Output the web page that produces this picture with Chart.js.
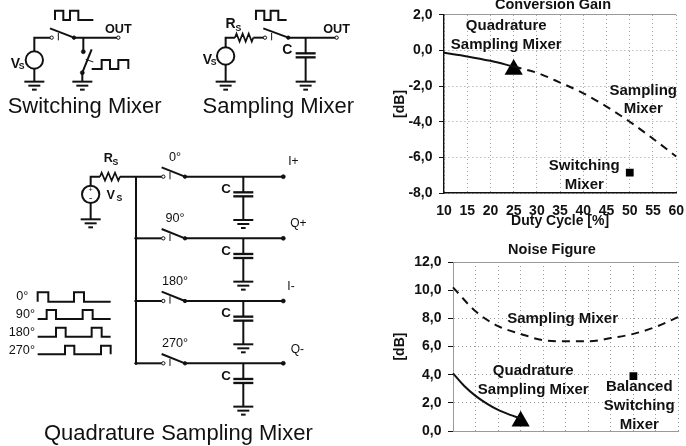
<!DOCTYPE html>
<html>
<head>
<meta charset="utf-8">
<script src="https://cdn.jsdelivr.net/npm/chart.js@4"></script>
<style>
  html, body { margin: 0; padding: 0; background: #fff; overflow: hidden; }
  #pagina { position: relative; width: 686px; height: 446px; overflow: hidden; filter: blur(0.55px); }
  #esquema { position: absolute; left: 0; top: 0; }
  #esquema polyline, #esquema line, #esquema circle { fill: none; stroke: #111; stroke-linejoin: miter; }
  #esquema text { font-family: "Liberation Sans", Arial, sans-serif; fill: #111; stroke: none; }
  .box { position: absolute; }
  /* um pouco mais largo que a pagina: o Chart.js reserva margem pelo tamanho dos marcadores */
  #caixaGanho { left: 385px; top: 0; width: 309px; height: 230px; }
  #caixaRuido { left: 385px; top: 225px; width: 304px; height: 221px; }
</style>
</head>
<body>
<div id="pagina">
  <svg id="esquema" width="400" height="446"></svg>
  <div class="box" id="caixaGanho"><canvas id="ganho"></canvas></div>
  <div class="box" id="caixaRuido"><canvas id="ruido"></canvas></div>
</div>
<script>
// Dados
const dutyTicks = [10, 15, 20, 25, 30, 35, 40, 45, 50, 55, 60];

const ganhoQuadX = [10, 15, 20, 25];
const ganhoQuadY = [-0.13, -0.33, -0.58, -0.9];
const ganhoSampX = [25, 30, 35, 40, 45, 50, 55, 60];
const ganhoSampY = [-0.9, -1.25, -1.8, -2.4, -3.15, -4.0, -4.95, -5.95];
const ganhoTriX = [25];
const ganhoTriY = [-1.07];
const ganhoQuadrX = [50];
const ganhoQuadrY = [-6.85];

const ruidoSampX = [10, 15, 20, 25, 30, 35, 40, 45, 50, 55, 60];
const ruidoSampY = [10.2, 8.5, 7.45, 6.9, 6.45, 6.37, 6.37, 6.6, 6.9, 7.4, 8.1];
const ruidoQuadX = [10, 12.5, 15, 17.5, 20, 22.5, 25];
const ruidoQuadY = [4.1, 3.2, 2.5, 1.95, 1.5, 1.17, 0.9];
const ruidoTriX = [25];
const ruidoTriY = [0.7];
const ruidoQuadrX = [50];
const ruidoQuadrY = [3.9];

const ganhoTicks = [2, 0, -2, -4, -6, -8];
const ruidoTicks = [12, 10, 8, 6, 4, 2, 0];

const ganhoTextos = ['Quadrature', 'Sampling Mixer', 'Sampling', 'Mixer', 'Switching', 'Mixer'];
const ganhoTextosX = [23.4, 23.4, 52.9, 52.9, 40.2, 40.2];
const ganhoTextosY = [1.39, 0.31, -2.24, -3.3, -6.5, -7.57];
const ruidoTextos = ['Sampling Mixer', 'Quadrature', 'Sampling Mixer', 'Balanced', 'Switching', 'Mixer'];
const ruidoTextosX = [34.3, 27.8, 27.8, 51.3, 51.3, 51.3];
const ruidoTextosY = [8.0, 4.27, 2.93, 3.16, 1.8, 0.46];

const pontos = (xs, ys) => xs.map((x, i) => ({ x, y: ys[i] }));
const virgula = (v) => v.toFixed(1).replace('.', ',');

// Textos dentro do grafico, posicionados pelas escalas
const textosPlugin = {
  id: 'textos',
  afterLayout(chart, args, opts) {
    // o titulo da figura nao fica centrado no grafico
    chart.titleBlock.left = opts.tituloX - 100;
    chart.titleBlock.right = opts.tituloX + 100;
  },
  afterDatasetsDraw(chart, args, opts) {
    const { ctx, scales } = chart;
    ctx.save();
    ctx.font = 'bold 15px "Liberation Sans"';
    ctx.fillStyle = '#111';
    ctx.textAlign = 'center';
    ctx.textBaseline = 'middle';
    opts.textos.forEach((t, i) => {
      ctx.fillText(t, scales.x.getPixelForValue(opts.xs[i]), scales.y.getPixelForValue(opts.ys[i]));
    });
    ctx.restore();
  }
};

const criarGrafico = (id, cfg) => new Chart(document.getElementById(id), {
  type: 'scatter',
  plugins: [textosPlugin],
  data: { datasets: cfg.datasets },
  options: {
    responsive: true,
    maintainAspectRatio: false,
    animation: false,
    plugins: {
      legend: { display: false },
      tooltip: { enabled: false },
      title: {
        display: true,
        text: cfg.titulo,
        color: '#111',
        font: { family: 'Liberation Sans', size: 14.5, weight: 'bold' },
        padding: cfg.tituloPad
      },
      textos: cfg.textos
    },
    scales: {
      x: {
        type: 'linear',
        min: 10,
        max: 60,
        afterBuildTicks: (s) => { s.ticks = dutyTicks.map((v) => ({ value: v })); },
        afterFit: (s) => { s.height = cfg.alturaX; },
        grid: { color: '#9a9a9a', drawTicks: false },
        border: { color: cfg.eixoCor, width: cfg.eixoLargura, dash: [1, 3] },
        ticks: {
          display: cfg.mostrarX,
          padding: 10,
          maxRotation: 0,
          autoSkip: false,
          color: '#111',
          font: { family: 'Liberation Sans', size: 14, weight: 'bold' }
        },
        title: {
          display: cfg.mostrarX,
          text: 'Duty Cycle [%]',
          color: '#111',
          padding: { top: 0, bottom: 0.9 },
          font: { family: 'Liberation Sans', size: 14, weight: 'bold' }
        }
      },
      y: {
        min: cfg.yTicks[cfg.yTicks.length - 1],
        max: cfg.yTicks[0],
        afterBuildTicks: (s) => { s.ticks = cfg.yTicks.map((v) => ({ value: v })).reverse(); },
        afterFit: (s) => { s.width = cfg.larguraY; },
        grid: {
          color: '#9a9a9a',
          tickLength: 5,
          tickColor: '#111'
        },
        border: {
          color: cfg.eixoCor,
          width: cfg.eixoLargura,
          dash: (c) => (c.tick && c.tick.value === cfg.yTicks[0] ? [] : [1, 3])
        },
        ticks: {
          padding: 6.5,
          color: '#111',
          font: { family: 'Liberation Sans', size: 14, weight: 'bold' },
          callback: (v) => virgula(v)
        },
        title: {
          display: true,
          text: '[dB]',
          color: '#111',
          padding: { top: 7, bottom: 0 },
          font: { family: 'Liberation Sans', size: 14, weight: 'bold' }
        }
      }
    }
  }
});

const curva = (xs, ys, dash) => ({
  data: pontos(xs, ys),
  showLine: true,
  borderColor: '#111',
  borderWidth: 2,
  borderDash: dash,
  cubicInterpolationMode: 'monotone',
  pointRadius: 0,
  clip: false
});
const marca = (xs, ys, estilo, raio) => ({
  data: pontos(xs, ys),
  showLine: false,
  pointStyle: estilo,
  pointRadius: raio,
  backgroundColor: '#000',
  borderColor: '#000',
  borderWidth: 0
});

criarGrafico('ganho', {
  titulo: 'Conversion Gain',
  tituloPad: { top: -4.2, bottom: 0.8 },
  alturaX: 37,
  larguraY: 59,
  mostrarX: true,
  eixoCor: '#111',
  eixoLargura: 1.4,
  yTicks: ganhoTicks,
  textos: { tituloX: 168, textos: ganhoTextos, xs: ganhoTextosX, ys: ganhoTextosY },
  datasets: [
    curva(ganhoQuadX, ganhoQuadY, []),
    curva(ganhoSampX, ganhoSampY, [8, 6]),
    marca(ganhoTriX, ganhoTriY, 'triangle', 10.5),
    marca(ganhoQuadrX, ganhoQuadrY, 'rect', 5.5)
  ]
});

criarGrafico('ruido', {
  titulo: 'Noise Figure',
  tituloPad: { top: 16, bottom: 3.6 },
  alturaX: 11,
  larguraY: 68,
  mostrarX: false,
  eixoCor: '#9a9a9a',
  eixoLargura: 1,
  yTicks: ruidoTicks,
  textos: { tituloX: 167, textos: ruidoTextos, xs: ruidoTextosX, ys: ruidoTextosY },
  datasets: [
    curva(ruidoSampX, ruidoSampY, [8, 6]),
    curva(ruidoQuadX, ruidoQuadY, []),
    marca(ruidoTriX, ruidoTriY, 'triangle', 10.5),
    marca(ruidoQuadrX, ruidoQuadrY, 'rect', 5.5)
  ]
});

// Esquemas dos circuitos (desenho, nao sao dados)
let s = '';
const fio = (pts, larg = 6) => { s += `<polyline stroke-width="${larg}" points="${pts.map((p) => p.join(',')).join(' ')}"/>`; };
const texto = (x, y, t, tam, peso = 'normal', ancora = 'middle') => {
  s += `<text x="${x}" y="${y}" font-size="${tam}" font-weight="${peso}" text-anchor="${ancora}">${t}</text>`;
};
const terra = (x, y) => {
  fio([[x - 30, y], [x + 30, y]]);
  fio([[x - 18, y + 12], [x + 18, y + 12]]);
  fio([[x - 7, y + 24], [x + 7, y + 24]]);
};
const capacitor = (x, y) => {
  fio([[x - 30, y], [x + 30, y]], 7);
  fio([[x - 30, y + 12], [x + 30, y + 12]], 7);
};
const resistor = (x0, x1, y) => {
  const pts = [[x0, y]];
  const n = 6;
  for (let i = 0; i < n; i++) {
    pts.push([x0 + ((i + 0.5) * (x1 - x0)) / n, y + (i % 2 ? 12 : -12)]);
  }
  pts.push([x1, y]);
  fio(pts, 5);
};
const chave = (x0, x1, y) => {
  fio([[x0 - 5, y - 28], [x1, y]], 6);
  fio([[x0 + 20, y - 14], [x0 + 20, y + 8]], 3);
  s += `<circle cx="${x0}" cy="${y}" r="5" stroke-width="3" style="fill:#fff"/>`;
  s += `<circle cx="${x1}" cy="${y}" r="5" stroke-width="3" style="fill:#111"/>`;
};
const fonte = (x, y, r = 26) => { s += `<circle cx="${x}" cy="${y}" r="${r}" stroke-width="6"/>`; };
const ponto = (x, y, r = 5) => { s += `<circle cx="${x}" cy="${y}" r="${r}" stroke-width="2" style="fill:#111"/>`; };
const saida = (x, y) => { s += `<circle cx="${x}" cy="${y}" r="5" stroke-width="3" style="fill:#fff"/>`; };

s += '<g transform="scale(0.3333)">';
// Switching Mixer
fonte(103, 180);
fio([[103, 154], [103, 113], [155, 113]]);
fio([[103, 206], [103, 245]]);
terra(103, 245);
chave(155, 222, 113);
fio([[222, 113], [355, 113]]);
saida(355, 113);
texto(355, 98, 'OUT', 38, 'bold');
fio([[250, 113], [250, 155]]);
ponto(250, 155, 6);
fio([[275, 148], [247, 218]]);
fio([[257, 178], [280, 186]], 3);
ponto(247, 218, 6);
fio([[247, 218], [247, 245]]);
terra(247, 245);
fio([[165, 60], [165, 32], [190, 32], [190, 60], [210, 60], [210, 32], [235, 32], [235, 60], [280, 60]]);
fio([[275, 207], [305, 207], [305, 180], [330, 180], [330, 207], [355, 207], [355, 180], [385, 180], [385, 207]]);
texto(46, 205, 'V', 42, 'bold');
texto(65, 207, 'S', 26, 'bold');
texto(254, 338, 'Switching Mixer', 66);
// Sampling Mixer
fonte(677, 168);
fio([[677, 142], [677, 113], [705, 113]]);
resistor(705, 760, 113);
fio([[760, 113], [795, 113]]);
fio([[677, 194], [677, 245]]);
terra(677, 245);
chave(795, 865, 113);
fio([[865, 113], [1010, 113]]);
saida(1010, 113);
texto(1010, 98, 'OUT', 38, 'bold');
fio([[917, 113], [917, 160]]);
capacitor(917, 160);
fio([[917, 172], [917, 245]]);
terra(917, 245);
fio([[768, 60], [768, 32], [793, 32], [793, 60], [812, 60], [812, 32], [835, 32], [835, 60], [860, 60]]);
texto(692, 84, 'R', 42, 'bold');
texto(715, 92, 'S', 26, 'bold');
texto(622, 192, 'V', 42, 'bold');
texto(641, 194, 'S', 26, 'bold');
texto(862, 163, 'C', 42, 'bold');
texto(835, 338, 'Sampling Mixer', 66);
s += '</g>';

// Quadrature Sampling Mixer
s += '<g transform="translate(0,130) scale(0.3333)">';
fonte(272, 193);
texto(272, 187, '+', 22);
texto(272, 212, '-', 30);
fio([[272, 167], [272, 140], [300, 140]]);
resistor(300, 360, 140);
fio([[360, 140], [487, 140]]);
fio([[272, 219], [272, 268]]);
terra(272, 268);
texto(325, 96, 'R', 38, 'bold');
texto(346, 104, 'S', 26, 'bold');
texto(332, 208, 'V', 38, 'bold');
texto(358, 214, 'S', 26, 'bold');
fio([[408, 140], [408, 700]]);
const linhas = [140, 325, 513, 700];
const fases = ['0°', '90°', '180°', '270°'];
const nomes = ['I+', 'Q+', 'I-', 'Q-'];
const nomesX = [880, 895, 873, 892];
const nomesDy = [-32, -32, -30, -30];
linhas.forEach((y, i) => {
  if (i > 0) { fio([[408, y], [487, y]]); ponto(408, y, 4); }
  chave(490, 555, y);
  fio([[555, y], [850, y]]);
  ponto(850, y, 6);
  fio([[730, y], [730, y + 47]]);
  capacitor(730, y + 47);
  fio([[730, y + 59], [730, y + 130]]);
  terra(730, y + 130);
  texto(678, y + 49, 'C', 40, 'bold');
  texto(525, y - 48, fases[i], 38);
  texto(nomesX[i], y + nomesDy[i] - 2, nomes[i], 36);
});
const fasesY = [510, 565, 618, 672];
const fasesX = [85, 105, 105, 105];
fases.forEach((f, i) => texto(fasesX[i], fasesY[i], f, 38, 'normal', 'end'));
fio([[113, 515], [113, 487], [145, 487], [145, 515], [222, 515], [222, 487], [252, 487], [252, 515], [332, 515]]);
fio([[113, 567], [140, 567], [140, 540], [168, 540], [168, 567], [248, 567], [248, 540], [278, 540], [278, 567], [332, 567]]);
fio([[113, 620], [168, 620], [168, 593], [197, 593], [197, 620], [275, 620], [275, 593], [305, 593], [305, 620], [332, 620]]);
fio([[113, 673], [195, 673], [195, 647], [223, 647], [223, 673], [303, 673], [303, 647], [332, 647], [332, 673]]);
texto(535, 930, 'Quadrature Sampling Mixer', 66);
s += '</g>';
document.getElementById('esquema').innerHTML = s;
</script>
</body>
</html>
